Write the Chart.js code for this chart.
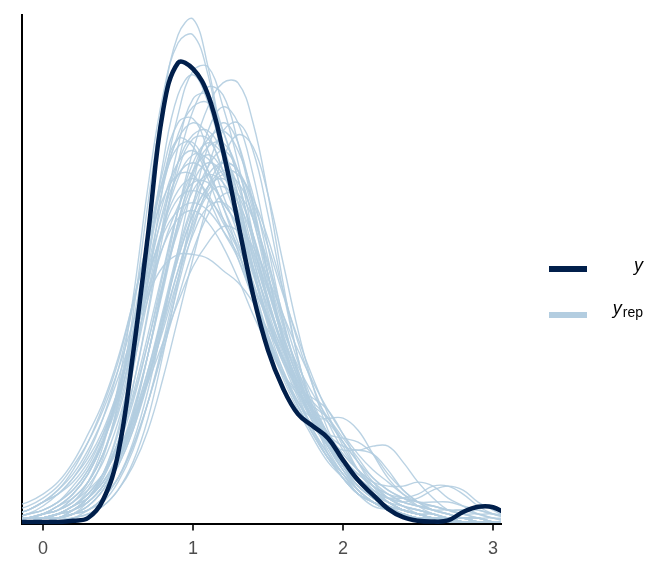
<!DOCTYPE html>
<html>
<head>
<meta charset="utf-8">
<script src="https://cdn.jsdelivr.net/npm/chart.js@4"></script>
<style>
  html, body { margin: 0; padding: 0; background: #fff; }
  #wrap { position: relative; width: 672px; height: 576px; }
</style>
</head>
<body>
<div id="wrap"><canvas id="densChart" width="672" height="576"></canvas></div>
<script>
// evaluation grid shared by every density curve
const xGrid = [-0.2, -0.1, 0, 0.1, 0.2, 0.3, 0.4, 0.5, 0.6, 0.7, 0.8, 0.9, 1, 1.1, 1.2, 1.3, 1.4,
  1.5, 1.6, 1.7, 1.8, 1.9, 2, 2.1, 2.2, 2.3, 2.4, 2.5, 2.6, 2.7, 2.8, 2.9, 3, 3.1];
const xTicks = [0, 1, 2, 3];

// observed data density (y)
const yObs = [0, 0, 0, 0, 0.003, 0.01, 0.055, 0.17, 0.42, 0.72, 1.03, 1.15, 1.135, 1.07, 0.93, 0.75, 0.57,
  0.43, 0.335, 0.27, 0.24, 0.21, 0.155, 0.105, 0.068, 0.033, 0.012, 0.003, 0.001, 0.004, 0.025, 0.038, 0.037, 0.018];

// replicated data densities (y_rep)
const yrep01 = [0, 0.01, 0.01, 0.02, 0.04, 0.08, 0.16, 0.3, 0.52, 0.8, 1.05, 1.22, 1.26, 1.14, 0.95, 0.82, 0.64, 0.5, 0.4, 0.31, 0.23, 0.17, 0.12, 0.08, 0.05, 0.03, 0.02, 0.01, 0.01, 0.01, 0, 0, 0, 0];
const yrep02 = [0, 0.01, 0.02, 0.03, 0.05, 0.1, 0.19, 0.34, 0.56, 0.84, 1.07, 1.2, 1.22, 1.12, 0.94, 0.8, 0.64, 0.51, 0.41, 0.32, 0.25, 0.19, 0.14, 0.1, 0.06, 0.04, 0.03, 0.02, 0.01, 0.01, 0.01, 0, 0, 0];
const yrep03 = [0, 0, 0.01, 0.02, 0.03, 0.06, 0.12, 0.22, 0.38, 0.6, 0.84, 1.02, 1.13, 1.14, 1.04, 0.9, 0.72, 0.56, 0.44, 0.34, 0.26, 0.19, 0.13, 0.08, 0.05, 0.03, 0.02, 0.01, 0.01, 0, 0, 0, 0, 0];
const yrep04 = [0, 0, 0, 0.01, 0.02, 0.04, 0.08, 0.15, 0.26, 0.42, 0.6, 0.78, 0.93, 1.04, 1.1, 1.1, 1.0, 0.82, 0.6, 0.41, 0.27, 0.17, 0.11, 0.07, 0.04, 0.03, 0.02, 0.01, 0.01, 0, 0, 0, 0, 0];
const yrep05 = [0, 0, 0.01, 0.02, 0.03, 0.06, 0.11, 0.2, 0.34, 0.52, 0.72, 0.9, 1.03, 1.09, 1.07, 0.95, 0.79, 0.62, 0.47, 0.36, 0.27, 0.19, 0.13, 0.08, 0.05, 0.03, 0.02, 0.01, 0.01, 0, 0, 0, 0, 0];
const yrep06 = [0.01, 0.01, 0.02, 0.04, 0.07, 0.12, 0.2, 0.32, 0.48, 0.66, 0.84, 0.97, 1.04, 1.05, 0.98, 0.86, 0.7, 0.56, 0.44, 0.34, 0.26, 0.19, 0.14, 0.09, 0.06, 0.04, 0.03, 0.02, 0.01, 0.01, 0.01, 0, 0, 0];
const yrep07 = [0.01, 0.02, 0.04, 0.07, 0.11, 0.17, 0.26, 0.38, 0.54, 0.71, 0.86, 0.96, 1.0, 0.97, 0.88, 0.8, 0.66, 0.53, 0.42, 0.33, 0.25, 0.19, 0.14, 0.08, 0.05, 0.03, 0.02, 0.01, 0.01, 0, 0, 0, 0, 0];
const yrep08 = [0, 0, 0.01, 0.02, 0.03, 0.05, 0.09, 0.16, 0.27, 0.42, 0.59, 0.75, 0.88, 0.96, 0.98, 0.93, 0.82, 0.66, 0.5, 0.37, 0.27, 0.2, 0.15, 0.11, 0.08, 0.05, 0.03, 0.02, 0.01, 0.01, 0, 0, 0, 0];
const yrep09 = [0.02, 0.03, 0.05, 0.08, 0.13, 0.2, 0.29, 0.4, 0.55, 0.71, 0.85, 0.94, 0.95, 0.88, 0.79, 0.7, 0.58, 0.47, 0.38, 0.3, 0.23, 0.17, 0.12, 0.07, 0.05, 0.03, 0.02, 0.01, 0.01, 0, 0, 0, 0, 0];
const yrep10 = [0, 0.01, 0.01, 0.02, 0.04, 0.07, 0.12, 0.2, 0.32, 0.47, 0.63, 0.78, 0.88, 0.92, 0.88, 0.8, 0.66, 0.52, 0.41, 0.33, 0.28, 0.25, 0.2, 0.15, 0.1, 0.06, 0.04, 0.02, 0.01, 0.01, 0, 0, 0, 0];
const yrep11 = [0.01, 0.02, 0.03, 0.05, 0.08, 0.13, 0.21, 0.32, 0.47, 0.63, 0.77, 0.87, 0.9, 0.87, 0.8, 0.74, 0.62, 0.51, 0.41, 0.33, 0.26, 0.2, 0.15, 0.1, 0.07, 0.05, 0.03, 0.02, 0.02, 0.01, 0.01, 0, 0, 0];
const yrep12 = [0, 0, 0.01, 0.01, 0.02, 0.04, 0.08, 0.14, 0.23, 0.35, 0.49, 0.63, 0.75, 0.83, 0.87, 0.85, 0.77, 0.64, 0.5, 0.38, 0.29, 0.22, 0.17, 0.13, 0.1, 0.09, 0.09, 0.1, 0.09, 0.06, 0.04, 0.02, 0.01, 0];
const yrep13 = [0.02, 0.03, 0.05, 0.07, 0.1, 0.15, 0.22, 0.31, 0.43, 0.56, 0.69, 0.79, 0.85, 0.85, 0.8, 0.74, 0.64, 0.54, 0.44, 0.35, 0.27, 0.21, 0.16, 0.12, 0.09, 0.07, 0.05, 0.04, 0.03, 0.02, 0.01, 0.01, 0, 0];
const yrep14 = [0, 0, 0, 0.01, 0.02, 0.03, 0.06, 0.11, 0.19, 0.3, 0.43, 0.56, 0.68, 0.77, 0.82, 0.82, 0.76, 0.65, 0.52, 0.4, 0.3, 0.22, 0.16, 0.11, 0.07, 0.05, 0.03, 0.02, 0.01, 0.01, 0, 0, 0, 0];
const yrep15 = [0.02, 0.03, 0.05, 0.08, 0.12, 0.18, 0.26, 0.36, 0.47, 0.57, 0.64, 0.67, 0.67, 0.66, 0.63, 0.6, 0.55, 0.48, 0.41, 0.33, 0.26, 0.2, 0.15, 0.1, 0.07, 0.05, 0.04, 0.03, 0.02, 0.01, 0.01, 0, 0, 0];
const yrep16 = [0, 0.01, 0.02, 0.03, 0.05, 0.09, 0.15, 0.25, 0.39, 0.56, 0.74, 0.88, 0.96, 0.96, 0.88, 0.78, 0.63, 0.5, 0.4, 0.34, 0.3, 0.26, 0.2, 0.13, 0.08, 0.05, 0.03, 0.02, 0.01, 0.01, 0, 0, 0, 0];
const yrep17 = [0.01, 0.01, 0.02, 0.04, 0.07, 0.12, 0.2, 0.33, 0.5, 0.7, 0.88, 1.0, 1.01, 0.93, 0.82, 0.72, 0.58, 0.46, 0.36, 0.28, 0.21, 0.15, 0.11, 0.07, 0.05, 0.04, 0.03, 0.02, 0.02, 0.01, 0.01, 0.01, 0, 0];
const yrep18 = [0, 0, 0.01, 0.01, 0.03, 0.05, 0.09, 0.15, 0.25, 0.38, 0.53, 0.68, 0.8, 0.89, 0.93, 0.88, 0.76, 0.6, 0.45, 0.33, 0.25, 0.2, 0.18, 0.18, 0.17, 0.13, 0.08, 0.05, 0.03, 0.02, 0.01, 0.01, 0, 0];
const yrep19 = [0.04, 0.05, 0.07, 0.1, 0.15, 0.22, 0.3, 0.41, 0.55, 0.7, 0.81, 0.87, 0.87, 0.81, 0.73, 0.66, 0.56, 0.46, 0.37, 0.29, 0.22, 0.16, 0.12, 0.07, 0.05, 0.03, 0.02, 0.01, 0.01, 0, 0, 0, 0, 0];
const yrep20 = [0, 0.01, 0.01, 0.02, 0.04, 0.06, 0.1, 0.16, 0.25, 0.36, 0.48, 0.61, 0.72, 0.79, 0.8, 0.76, 0.68, 0.58, 0.48, 0.39, 0.32, 0.26, 0.2, 0.15, 0.11, 0.08, 0.06, 0.04, 0.03, 0.03, 0.02, 0.02, 0.01, 0.01];
const yrep21 = [0, 0, 0, 0.01, 0.01, 0.03, 0.05, 0.1, 0.18, 0.3, 0.45, 0.61, 0.76, 0.89, 0.98, 1.0, 0.93, 0.77, 0.58, 0.41, 0.28, 0.19, 0.13, 0.09, 0.06, 0.04, 0.02, 0.01, 0.01, 0, 0, 0, 0, 0];
const yrep22 = [0.01, 0.02, 0.03, 0.05, 0.08, 0.13, 0.2, 0.3, 0.44, 0.6, 0.74, 0.83, 0.86, 0.82, 0.75, 0.68, 0.56, 0.45, 0.37, 0.32, 0.29, 0.26, 0.21, 0.16, 0.11, 0.08, 0.06, 0.05, 0.05, 0.05, 0.04, 0.03, 0.02, 0.01];
const yrep23 = [0.02, 0.03, 0.05, 0.07, 0.11, 0.16, 0.23, 0.33, 0.45, 0.58, 0.69, 0.76, 0.78, 0.75, 0.69, 0.61, 0.52, 0.44, 0.37, 0.3, 0.24, 0.19, 0.15, 0.12, 0.09, 0.07, 0.06, 0.05, 0.04, 0.03, 0.03, 0.02, 0.02, 0.01];
const yrep24 = [0, 0, 0.01, 0.02, 0.04, 0.07, 0.12, 0.19, 0.3, 0.45, 0.62, 0.78, 0.9, 0.95, 0.92, 0.84, 0.72, 0.58, 0.46, 0.36, 0.27, 0.2, 0.14, 0.09, 0.06, 0.04, 0.03, 0.02, 0.01, 0.01, 0, 0, 0, 0];
const yrep25 = [0, 0, 0, 0.01, 0.02, 0.03, 0.06, 0.11, 0.19, 0.3, 0.44, 0.59, 0.73, 0.84, 0.9, 0.88, 0.78, 0.62, 0.46, 0.34, 0.26, 0.22, 0.21, 0.2, 0.17, 0.12, 0.08, 0.05, 0.03, 0.02, 0.01, 0.01, 0, 0];
const yrep26 = [0, 0, 0.01, 0.02, 0.03, 0.06, 0.11, 0.2, 0.34, 0.53, 0.75, 0.94, 1.06, 1.07, 0.98, 0.86, 0.7, 0.55, 0.43, 0.33, 0.25, 0.18, 0.12, 0.08, 0.05, 0.03, 0.02, 0.01, 0.01, 0, 0, 0, 0, 0];
const yrep27 = [0, 0, 0.01, 0.01, 0.02, 0.05, 0.09, 0.15, 0.24, 0.36, 0.5, 0.63, 0.74, 0.82, 0.84, 0.8, 0.71, 0.59, 0.47, 0.37, 0.28, 0.21, 0.15, 0.1, 0.07, 0.06, 0.06, 0.07, 0.09, 0.09, 0.07, 0.04, 0.02, 0.01];
const yrep28 = [0.01, 0.01, 0.02, 0.03, 0.06, 0.1, 0.17, 0.29, 0.46, 0.67, 0.86, 0.96, 0.94, 0.86, 0.76, 0.66, 0.56, 0.46, 0.37, 0.29, 0.22, 0.16, 0.11, 0.07, 0.05, 0.03, 0.02, 0.01, 0.01, 0, 0, 0, 0, 0];
const yrep29 = [0.01, 0.01, 0.02, 0.03, 0.05, 0.08, 0.12, 0.18, 0.26, 0.35, 0.45, 0.55, 0.64, 0.7, 0.74, 0.73, 0.69, 0.61, 0.52, 0.43, 0.35, 0.28, 0.22, 0.17, 0.13, 0.1, 0.07, 0.05, 0.04, 0.03, 0.02, 0.01, 0.01, 0];
const yrep30 = [0, 0, 0, 0, 0.01, 0.02, 0.04, 0.08, 0.15, 0.26, 0.42, 0.6, 0.79, 0.94, 1.0, 0.95, 0.8, 0.62, 0.45, 0.32, 0.23, 0.16, 0.11, 0.07, 0.05, 0.03, 0.02, 0.01, 0.01, 0, 0, 0, 0, 0];
const yrep31 = [0, 0, 0.01, 0.02, 0.03, 0.06, 0.1, 0.17, 0.28, 0.42, 0.58, 0.74, 0.85, 0.9, 0.87, 0.77, 0.63, 0.49, 0.38, 0.3, 0.26, 0.26, 0.26, 0.23, 0.17, 0.11, 0.07, 0.04, 0.02, 0.01, 0.01, 0, 0, 0];
const yrep32 = [0, 0, 0.01, 0.01, 0.02, 0.04, 0.08, 0.14, 0.23, 0.36, 0.51, 0.66, 0.77, 0.84, 0.86, 0.82, 0.72, 0.59, 0.46, 0.36, 0.28, 0.22, 0.19, 0.18, 0.19, 0.19, 0.15, 0.1, 0.06, 0.03, 0.02, 0.01, 0, 0];
const yrep33 = [0, 0.01, 0.02, 0.03, 0.06, 0.1, 0.17, 0.28, 0.43, 0.61, 0.78, 0.9, 0.97, 0.98, 0.92, 0.82, 0.68, 0.55, 0.44, 0.35, 0.27, 0.2, 0.14, 0.09, 0.06, 0.04, 0.02, 0.01, 0.01, 0, 0, 0, 0, 0];
const yrep34 = [0, 0, 0.01, 0.02, 0.03, 0.05, 0.09, 0.15, 0.24, 0.37, 0.52, 0.67, 0.79, 0.87, 0.9, 0.88, 0.8, 0.69, 0.57, 0.46, 0.36, 0.27, 0.19, 0.13, 0.09, 0.06, 0.04, 0.03, 0.02, 0.01, 0.01, 0, 0, 0];
const yrep35 = [0.01, 0.02, 0.03, 0.05, 0.09, 0.14, 0.22, 0.33, 0.47, 0.61, 0.73, 0.81, 0.83, 0.81, 0.76, 0.69, 0.6, 0.5, 0.41, 0.33, 0.26, 0.2, 0.15, 0.11, 0.08, 0.06, 0.04, 0.03, 0.02, 0.01, 0.01, 0, 0, 0];
const yrep36 = [0, 0, 0, 0.01, 0.02, 0.03, 0.06, 0.11, 0.2, 0.33, 0.5, 0.68, 0.85, 0.98, 1.04, 1.0, 0.87, 0.69, 0.51, 0.37, 0.27, 0.2, 0.14, 0.1, 0.07, 0.04, 0.03, 0.02, 0.01, 0, 0, 0, 0, 0];
const yrep37 = [0.01, 0.01, 0.02, 0.04, 0.07, 0.12, 0.2, 0.31, 0.47, 0.64, 0.8, 0.9, 0.93, 0.88, 0.79, 0.68, 0.56, 0.45, 0.37, 0.33, 0.31, 0.28, 0.22, 0.15, 0.09, 0.05, 0.03, 0.02, 0.01, 0.01, 0, 0, 0, 0];
const yrep38 = [0, 0.01, 0.01, 0.02, 0.04, 0.07, 0.12, 0.2, 0.31, 0.45, 0.6, 0.73, 0.83, 0.87, 0.85, 0.78, 0.67, 0.55, 0.44, 0.35, 0.27, 0.21, 0.15, 0.11, 0.08, 0.06, 0.05, 0.06, 0.08, 0.09, 0.08, 0.05, 0.03, 0.01];
const yrep39 = [0, 0, 0.01, 0.01, 0.03, 0.05, 0.09, 0.16, 0.27, 0.42, 0.59, 0.75, 0.87, 0.94, 0.95, 0.88, 0.76, 0.62, 0.49, 0.38, 0.29, 0.22, 0.16, 0.11, 0.07, 0.05, 0.03, 0.02, 0.01, 0.01, 0, 0, 0, 0];
const yrep40 = [0, 0.01, 0.01, 0.02, 0.04, 0.06, 0.1, 0.16, 0.26, 0.38, 0.52, 0.66, 0.77, 0.84, 0.88, 0.87, 0.81, 0.71, 0.58, 0.45, 0.34, 0.25, 0.18, 0.13, 0.09, 0.06, 0.04, 0.03, 0.02, 0.01, 0.01, 0, 0, 0];
const yrep41 = [0, 0, 0.01, 0.01, 0.03, 0.06, 0.12, 0.23, 0.41, 0.65, 0.9, 1.07, 1.12, 1.05, 0.91, 0.75, 0.6, 0.47, 0.37, 0.29, 0.22, 0.16, 0.11, 0.07, 0.05, 0.03, 0.02, 0.01, 0.01, 0, 0, 0, 0, 0];
const yrep42 = [0.03, 0.04, 0.06, 0.09, 0.14, 0.2, 0.28, 0.38, 0.5, 0.62, 0.72, 0.78, 0.8, 0.78, 0.73, 0.67, 0.59, 0.51, 0.43, 0.35, 0.28, 0.22, 0.17, 0.13, 0.1, 0.07, 0.05, 0.04, 0.03, 0.02, 0.01, 0.01, 0, 0];
const yrep43 = [0, 0, 0, 0, 0.01, 0.02, 0.04, 0.08, 0.14, 0.23, 0.36, 0.51, 0.66, 0.8, 0.91, 0.97, 0.94, 0.82, 0.65, 0.48, 0.34, 0.23, 0.16, 0.11, 0.07, 0.05, 0.03, 0.02, 0.01, 0.01, 0, 0, 0, 0];
const yrep44 = [0.01, 0.01, 0.02, 0.04, 0.06, 0.1, 0.17, 0.27, 0.41, 0.58, 0.74, 0.86, 0.92, 0.91, 0.85, 0.75, 0.63, 0.51, 0.41, 0.33, 0.26, 0.2, 0.15, 0.11, 0.08, 0.06, 0.05, 0.04, 0.04, 0.03, 0.03, 0.03, 0.02, 0.02];

const yrepDraws = [yrep01, yrep02, yrep03, yrep04, yrep05, yrep06, yrep07, yrep08, yrep09, yrep10,
  yrep11, yrep12, yrep13, yrep14, yrep15, yrep16, yrep17, yrep18, yrep19, yrep20,
  yrep21, yrep22, yrep23, yrep24, yrep25, yrep26, yrep27, yrep28, yrep29, yrep30,
  yrep31, yrep32, yrep33, yrep34, yrep35, yrep36, yrep37, yrep38, yrep39, yrep40,
  yrep41, yrep42, yrep43, yrep44];

const darkBlue = '#011f4b';
const lightBlue = '#b3cde0';

function toPoints(vals) {
  return xGrid.map((x, i) => ({ x: x, y: vals[i] }));
}

const datasets = [{
  label: 'y',
  data: toPoints(yObs),
  borderColor: darkBlue,
  borderWidth: 4.5,
  order: 0
}];
yrepDraws.forEach((d, i) => {
  datasets.push({
    label: 'yrep' + (i + 1),
    data: toPoints(d),
    borderColor: 'rgba(179,205,224,0.9)',
    borderWidth: 1.4,
    order: 1
  });
});

// legend on the right: y and y_rep
const sideLegend = {
  id: 'sideLegend',
  afterDraw(chart) {
    const c = chart.ctx;
    c.save();
    c.fillStyle = darkBlue;
    c.fillRect(549, 266, 38, 6);
    c.fillStyle = lightBlue;
    c.fillRect(549, 312, 38, 6);

    c.fillStyle = '#000';
    c.textAlign = 'right';
    c.textBaseline = 'alphabetic';
    c.font = 'italic 18px "Liberation Sans", Arial, sans-serif';
    c.fillText('y', 643, 271);

    c.font = '14px "Liberation Sans", Arial, sans-serif';
    const w = c.measureText('rep').width;
    c.fillText('rep', 643, 317);
    c.font = 'italic 18px "Liberation Sans", Arial, sans-serif';
    c.fillText('y', 642 - w, 314);
    c.restore();
  }
};

new Chart(document.getElementById('densChart'), {
  type: 'line',
  data: { datasets: datasets },
  options: {
    responsive: false,
    animation: false,
    events: [],
    elements: {
      point: { radius: 0 },
      line: { tension: 0.4, fill: false }
    },
    layout: { padding: { left: 22, top: 15, right: 171, bottom: 8 } },
    scales: {
      x: {
        type: 'linear',
        min: -0.14,
        max: 3.053,
        afterBuildTicks: (scale) => { scale.ticks = xTicks.map(v => ({ value: v })); },
        border: { display: true, color: '#000', width: 2 },
        grid: { drawOnChartArea: false, drawTicks: true, tickLength: 6, color: '#333', lineWidth: 2 },
        ticks: {
          padding: 8,
          color: '#4d4d4d',
          font: { family: '"Liberation Sans", Arial, sans-serif', size: 18 },
          callback: v => String(v)
        }
      },
      y: {
        min: -0.006,
        max: 1.27,
        border: { display: true, color: '#000', width: 2 },
        grid: { display: false, drawTicks: false },
        ticks: { display: false }
      }
    },
    plugins: {
      legend: { display: false },
      tooltip: { enabled: false }
    }
  },
  plugins: [sideLegend]
});
</script>
</body>
</html>
